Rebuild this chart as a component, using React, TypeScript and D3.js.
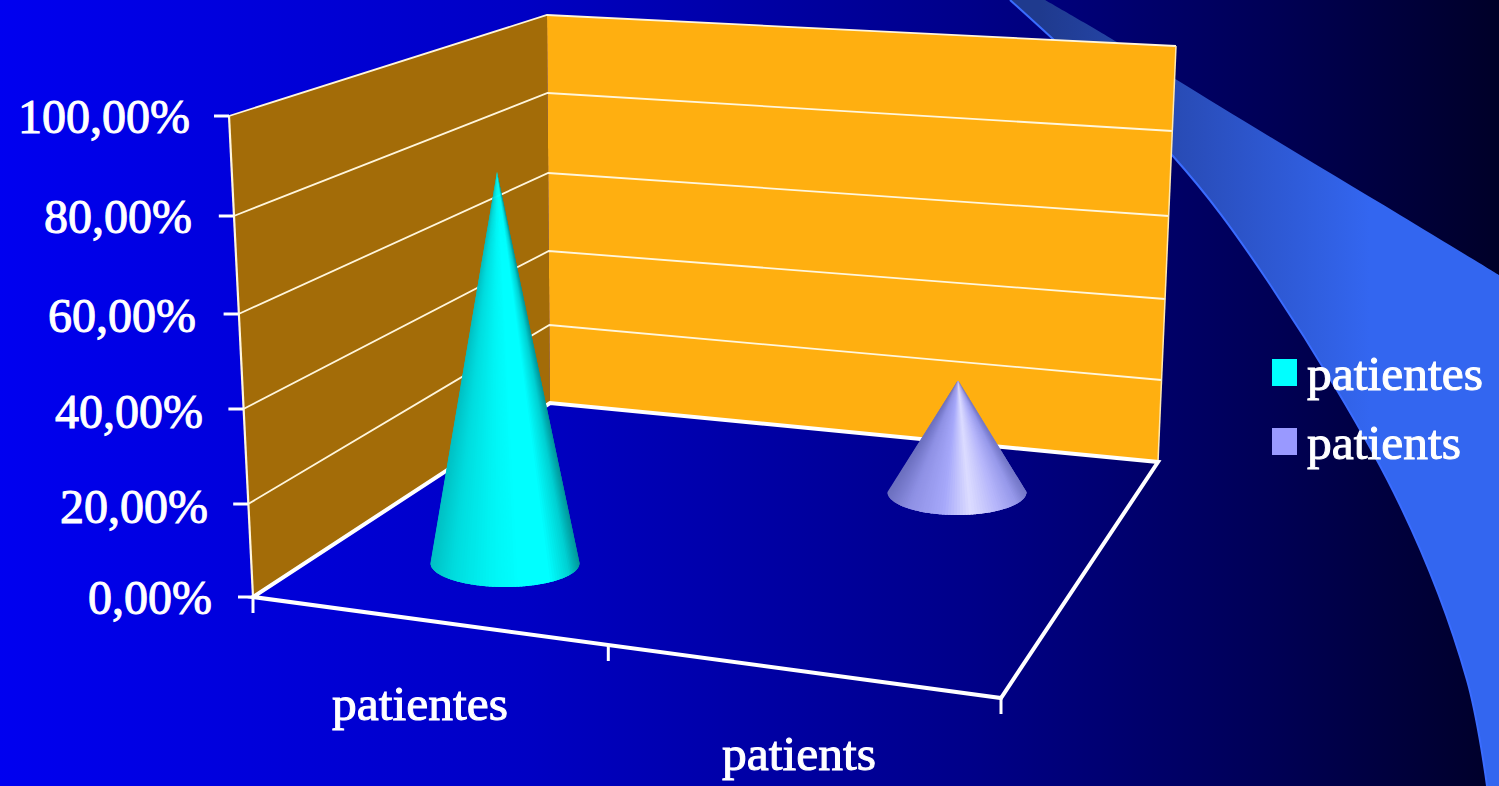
import React from "react";
import * as d3 from "d3";

// Chart values
const categories = ["patientes", "patients"];
const seriesValues = [0.85, 0.26];
const seriesColors = ["#00ffff", "#9999ff"];
const tickValues = [0, 0.2, 0.4, 0.6, 0.8, 1];
const tickLabels = ["0,00%", "20,00%", "40,00%", "60,00%", "80,00%", "100,00%"];

const W = 1499;
const H = 786;

// Perspective frame: each vertical wall edge has its own value scale
const frontEdgeY = d3.scaleLinear().domain(tickValues).range([597, 504, 409, 314, 216, 116]);
const frontEdgeX = d3.scaleLinear().domain([0, 1]).range([253, 229]);
const cornerY = d3.scaleLinear().domain(tickValues).range([403, 325, 251, 173, 93, 15]);
const cornerX = d3.scaleLinear().domain([0, 1]).range([550, 547]);
const rightEdgeY = d3.scaleLinear().domain(tickValues).range([462, 380, 299, 216, 131, 46]);
const rightEdgeX = d3.scaleLinear().domain([0, 1]).range([1158, 1176]);

const labelRight = d3.scaleLinear().domain(tickValues).range([212, 208, 203, 196, 192, 190]);
const labelBase = d3.scaleLinear().domain(tickValues).range([614, 523, 428, 332, 233, 133]);

// Floor corner that completes the front edge
const floorFront: [number, number] = [1001, 698];
const floorTicks = [0, 0.475, 1];

// Cone placement along the floor diagonal
const coneX = d3.scalePoint<string>().domain(categories).range([505, 957]);
const coneLean = d3.scalePoint<string>().domain(categories).range([-8, 1]);
const coneBase = d3.scalePoint<string>().domain(categories).range([563, 492]);
const coneUnit = d3.scalePoint<string>().domain(categories).range([460, 430]);
const coneRx = d3.scalePoint<string>().domain(categories).range([74.5, 69.5]);
const coneRy = d3.scalePoint<string>().domain(categories).range([24, 23]);

// Shading across each cone, left silhouette to right silhouette
const shadeStops = [0, 0.15, 0.4, 0.6, 0.8, 0.93, 1];
const coneShade = [
  d3.scaleLinear<string>().domain(shadeStops).range(["#00c0c4", "#00dcde", "#00f4f4", "#00ffff", "#00ffff", "#00d0d2", "#00989c"]),
  d3.scaleLinear<string>().domain(shadeStops).range(["#6c70c0", "#8e90e4", "#a6a8fa", "#dcdcff", "#b4b4fa", "#9698ea", "#7478c8"]),
];
const wedgeSteps = d3.range(0, 72);

const line = d3.line();

// Decorative swoosh across the top right corner
const swooshUpper: [number, number][] = [[1045, 0], [1117, 42], [1177, 80], [1267, 135], [1400, 215], [1499, 275]];
const swooshLower: [number, number][] = [[1010, 0], [1172, 155], [1267, 280], [1400, 505], [1467, 680], [1487, 786]];
const curve = d3.line().curve(d3.curveCatmullRom);
const swooshPath =
  curve(swooshUpper)! +
  "L1499,786L" + swooshLower[swooshLower.length - 1].join(",") +
  curve([...swooshLower].reverse())!.replace(/^M[^CL]*/, "") + "Z";

// A cone is a fan of overlapping wedges from the tip to the near half of its base ellipse
const coneWedges = (name: string, value: number, index: number) => {
  const cx = coneX(name)!;
  const by = coneBase(name)!;
  const rx = coneRx(name)!;
  const ry = coneRy(name)!;
  const tip: [number, number] = [cx + coneLean(name)!, by - value * coneUnit(name)!];
  const last = wedgeSteps.length;
  const at = (k: number): [number, number] => {
    const a = Math.PI - (Math.min(k, last) / last) * Math.PI;
    return [cx + rx * Math.cos(a), by + ry * Math.sin(a)];
  };
  return wedgeSteps.map((k) => {
    const mid = (at(k)[0] + at(k + 1)[0]) / 2;
    const colour = coneShade[index]((mid - (cx - rx)) / (2 * rx));
    return (
      <path key={k} d={line([tip, at(k), at(k + 0.5), at(k + 1), at(k + 2.5)])! + "Z"} fill={colour} />
    );
  });
};

const baseText: React.CSSProperties = {
  fontFamily: '"Liberation Serif", serif',
  fill: "#fff",
  stroke: "#fff",
  strokeWidth: 1,
};
const tickText: React.CSSProperties = { ...baseText, fontSize: 48 };
const nameText: React.CSSProperties = { ...baseText, fontSize: 49.5 };

export default function App() {
  return (
    <svg width={W} height={H} viewBox={`0 0 ${W} ${H}`}
      style={{ position: "absolute", left: 0, top: 0, display: "block" }}>
      <defs>
        <linearGradient id="bg" x1="0" x2="1" y1="0" y2="0">
          <stop offset="0" stopColor="#0000f0" />
          <stop offset="0.35" stopColor="#0000c4" />
          <stop offset="0.65" stopColor="#000088" />
          <stop offset="0.85" stopColor="#000055" />
          <stop offset="1" stopColor="#000028" />
        </linearGradient>
        <linearGradient id="swoosh" gradientUnits="userSpaceOnUse" x1="1040" x2="1370" y1="0" y2="0">
          <stop offset="0" stopColor="#1f3a8e" />
          <stop offset="0.5" stopColor="#2a4fbe" />
          <stop offset="1" stopColor="#3366f0" />
        </linearGradient>
      </defs>

      <rect width={W} height={H} fill="url(#bg)" />
      <path d={swooshPath} fill="url(#swoosh)" />
      <path d={curve(swooshLower)!} fill="none" stroke="#3a6cff" strokeWidth={2} />

      {/* Side wall and back wall */}
      <path fill="#a36c08" d={line([
        [frontEdgeX(0), frontEdgeY(0)], [frontEdgeX(1), frontEdgeY(1)],
        [cornerX(1), cornerY(1)], [cornerX(0), cornerY(0)],
      ])! + "Z"} />
      <path fill="#ffaf10" d={line([
        [cornerX(0), cornerY(0)], [cornerX(1), cornerY(1)],
        [rightEdgeX(1), rightEdgeY(1)], [rightEdgeX(0), rightEdgeY(0)],
      ])! + "Z"} />

      {/* Gridlines run across both walls */}
      {tickValues.map((v) => (
        <path key={v} fill="none" stroke="#fff6dc" strokeWidth={v === 0 ? 0 : 1.8} d={line([
          [frontEdgeX(v), frontEdgeY(v)],
          [cornerX(v), cornerY(v)],
          [rightEdgeX(v), rightEdgeY(v)],
        ])!} />
      ))}
      <path fill="none" stroke="#fff6dc" strokeWidth={2.2} d={line([
        [frontEdgeX(0), frontEdgeY(0)], [frontEdgeX(1), frontEdgeY(1)],
      ])!} />
      <path fill="none" stroke="#ffe9b0" strokeWidth={1.5} d={line([
        [rightEdgeX(0), rightEdgeY(0)], [rightEdgeX(1), rightEdgeY(1)],
      ])!} />

      {/* Floor outline and category ticks */}
      <path fill="none" stroke="#fff" strokeWidth={4} d={line([
        [frontEdgeX(0), frontEdgeY(0)], [cornerX(0), cornerY(0)],
        [rightEdgeX(0), rightEdgeY(0)], floorFront,
        [frontEdgeX(0), frontEdgeY(0)],
      ])! + "Z"} />
      {floorTicks.map((f) => {
        const x = d3.interpolateNumber(frontEdgeX(0), floorFront[0])(f);
        const y = d3.interpolateNumber(frontEdgeY(0), floorFront[1])(f);
        return <line key={f} x1={x} x2={x} y1={y} y2={y + 16} stroke="#fff" strokeWidth={3} />;
      })}

      {/* Value ticks and labels */}
      {tickValues.map((v, i) => (
        <g key={v}>
          <line x1={frontEdgeX(v) - 15} x2={frontEdgeX(v)} y1={frontEdgeY(v)} y2={frontEdgeY(v)}
            stroke="#fff" strokeWidth={3} />
          <text x={labelRight(v)} y={labelBase(v)} textAnchor="end" style={tickText}>{tickLabels[i]}</text>
        </g>
      ))}

      {/* Cones */}
      {categories.map((c, i) => (
        <g key={c}>{coneWedges(c, seriesValues[i], i)}</g>
      ))}

      {/* Category labels */}
      <text x={332} y={720} style={nameText}>{categories[0]}</text>
      <text x={722} y={770} style={nameText}>{categories[1]}</text>

      {/* Legend */}
      {categories.map((c, i) => {
        const y = d3.scaleLinear().domain([0, 1]).range([359, 428])(i);
        return (
          <g key={c}>
            <rect x={1272} y={y} width={25} height={27} fill={seriesColors[i]} />
            <text x={1307} y={y + 31} style={nameText}>{c}</text>
          </g>
        );
      })}
    </svg>
  );
}
